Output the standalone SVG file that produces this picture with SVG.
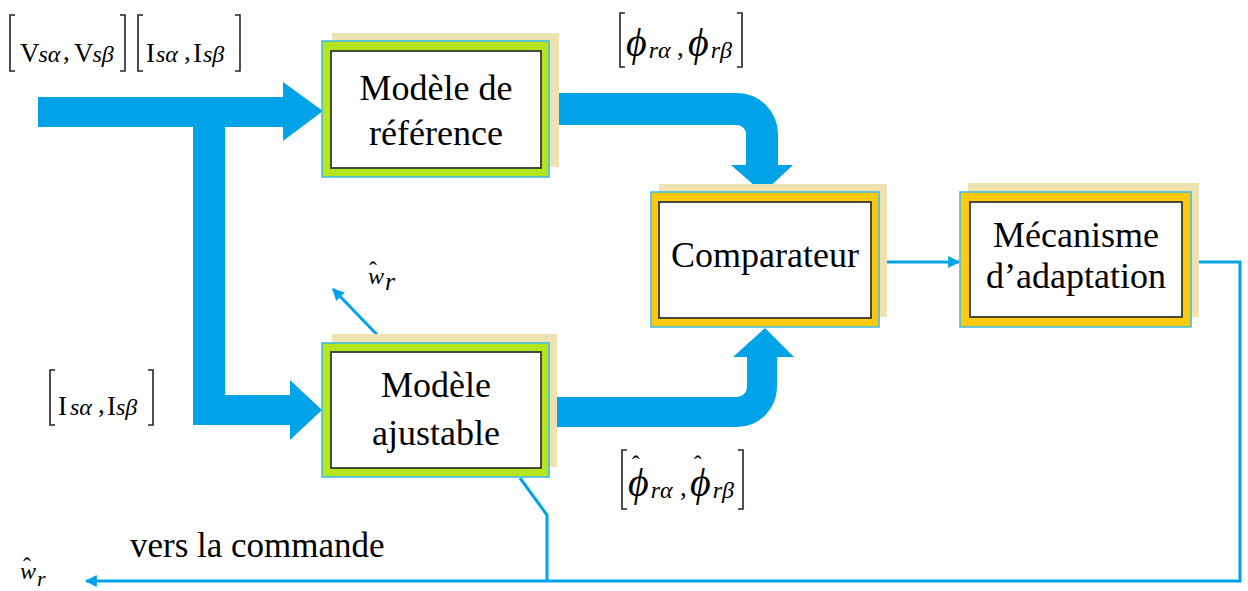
<svg xmlns="http://www.w3.org/2000/svg" width="1248" height="591" viewBox="0 0 1248 591" font-family="Liberation Serif, Times New Roman, serif">
  <style>
    .shadow { fill: #EEE2B0; }
    .green { fill: #B4E51E; stroke: #3DB8EC; stroke-width: 1.5; }
    .gold { fill: #FFC90E; stroke: #3DB8EC; stroke-width: 1.5; }
    .inner { fill: #FFFFFF; stroke: #3A3A30; stroke-width: 1.8; }
    .big { fill: #00A2E8; }
    .thin { fill: none; stroke: #00A2E8; stroke-width: 3; }
    text { font-family: 'Liberation Serif', 'Times New Roman', serif; fill: #000; }
    .lbl { font-size: 36px; text-anchor: middle; }
    .m { font-size: 27px; }
    .mi { font-size: 24px; font-style: italic; }
    .phi { font-size: 40px; font-style: italic; }
    .hat { font-size: 24px; font-style: normal; }
    .br { fill: none; stroke: #2A2030; stroke-width: 1.6; }
  </style>
  <defs>
    <marker id="ah" viewBox="0 0 10 10" refX="9" refY="5" markerWidth="4" markerHeight="4" orient="auto-start-reverse">
      <path d="M0,0 L10,5 L0,10 z" fill="#00A2E8"/>
    </marker>
  </defs>

  <rect width="1248" height="591" fill="#FFFFFF"/>

  <!-- connectors -->
  <g id="connectors">
    <!-- input bus split to both models -->
    <path class="big" d="M38,97 L283,97 L283,82 L323,111 L283,141 L283,127 L225,127 L225,395 L290,395 L290,380 L322,410 L290,440 L290,425 L193,425 L193,127 L38,127 Z"/>
    <!-- reference model to comparator -->
    <path class="big" d="M549,93 L737,93 A41,41 0 0 1 778,134 L778,165 L793,165 L763,193 L731,165 L746,165 L746,134 A9,9 0 0 0 737,125 L549,125 Z"/>
    <!-- adjustable model to comparator -->
    <path class="big" d="M549,397 L737,397 A10,10 0 0 0 747,387 L747,357 L733,357 L765,328 L794,357 L777,357 L777,387 A40,40 0 0 1 737,427 L549,427 Z"/>
    <!-- comparator to adaptation -->
    <line class="thin" x1="879" y1="262" x2="959" y2="262" marker-end="url(#ah)"/>
    <!-- adaptation output feedback -->
    <polyline class="thin" points="1191,262 1240,262 1240,581 86,581" marker-end="url(#ah)"/>
    <!-- adjustable model to feedback line -->
    <polyline class="thin" points="520,478 547,515 547,581"/>
    <!-- speed estimate output -->
    <line class="thin" x1="385" y1="343" x2="333" y2="289" marker-end="url(#ah)"/>
  </g>

  <!-- Modèle de référence -->
  <g id="modele-reference">
    <rect class="shadow" x="332" y="33" width="227" height="134"/>
    <rect class="green" x="322" y="41" width="227" height="136"/>
    <rect class="inner" x="331" y="51" width="210" height="117"/>
    <text class="lbl" x="436" y="100">Modèle de</text>
    <text class="lbl" x="436" y="145">référence</text>
  </g>

  <!-- Modèle ajustable -->
  <g id="modele-ajustable">
    <rect class="shadow" x="332" y="334" width="225" height="133"/>
    <rect class="green" x="322" y="343" width="227" height="134"/>
    <rect class="inner" x="331" y="352" width="210" height="116"/>
    <text class="lbl" x="436" y="397">Modèle</text>
    <text class="lbl" x="436" y="445">ajustable</text>
  </g>

  <!-- Comparateur -->
  <g id="comparateur">
    <rect class="shadow" x="659" y="184" width="228" height="133"/>
    <rect class="gold" x="651" y="192" width="228" height="135"/>
    <rect class="inner" x="659" y="202" width="212" height="116"/>
    <text class="lbl" x="765" y="267">Comparateur</text>
  </g>

  <!-- Mécanisme d'adaptation -->
  <g id="mecanisme">
    <rect class="shadow" x="968" y="183" width="231" height="134"/>
    <rect class="gold" x="960" y="192" width="231" height="135"/>
    <rect class="inner" x="970" y="202" width="212" height="115"/>
    <text class="lbl" x="1076" y="247">Mécanisme</text>
    <text class="lbl" x="1076" y="288">d’adaptation</text>
  </g>

  <!-- input voltages and currents -->
  <g id="label-vs-is">
    <path class="br" d="M15,15 L10,15 L10,71 L15,71"/>
    <text class="m" x="20" y="62">V<tspan class="mi" dx="-1">sα</tspan></text>
    <text class="m" x="63" y="60">,</text>
    <text class="m" x="74" y="62">V<tspan class="mi" dx="-1">sβ</tspan></text>
    <path class="br" d="M120,15 L125,15 L125,71 L120,71"/>
    <path class="br" d="M143,15 L138,15 L138,71 L143,71"/>
    <text class="m" x="146" y="62">I<tspan class="mi" dx="1">sα</tspan></text>
    <text class="m" x="184" y="60">,</text>
    <text class="m" x="193" y="62">I<tspan class="mi" dx="1">sβ</tspan></text>
    <path class="br" d="M235,15 L240,15 L240,71 L235,71"/>
  </g>

  <!-- reference fluxes -->
  <g id="label-phi">
    <path class="br" d="M625,13 L620,13 L620,67 L625,67"/>
    <text class="phi" x="626" y="56">ϕ<tspan class="mi" dx="2" dy="2">rα</tspan></text>
    <text class="m" x="677" y="56">,</text>
    <text class="phi" x="688" y="56">ϕ<tspan class="mi" dx="2" dy="2">rβ</tspan></text>
    <path class="br" d="M737,13 L742,13 L742,67 L737,67"/>
  </g>

  <!-- estimated fluxes -->
  <g id="label-phi-hat">
    <path class="br" d="M627,450 L622,450 L622,509 L627,509"/>
    <text class="phi" x="628" y="496">ϕ<tspan class="hat" dx="-17" dy="-24">ˆ</tspan><tspan class="mi" dx="11" dy="26">rα</tspan></text>
    <text class="m" x="680" y="496">,</text>
    <text class="phi" x="690" y="496">ϕ<tspan class="hat" dx="-17" dy="-24">ˆ</tspan><tspan class="mi" dx="11" dy="26">rβ</tspan></text>
    <path class="br" d="M738,450 L743,450 L743,509 L738,509"/>
  </g>

  <!-- stator currents -->
  <g id="label-is">
    <path class="br" d="M55,370 L50,370 L50,425 L55,425"/>
    <text class="m" x="58" y="415">I<tspan class="mi" dx="3">sα</tspan></text>
    <text class="m" x="98" y="413">,</text>
    <text class="m" x="107" y="415">I<tspan class="mi" dx="0">sβ</tspan></text>
    <path class="br" d="M148,370 L153,370 L153,425 L148,425"/>
  </g>

  <!-- estimated speed at adjustable model -->
  <g id="label-wr">
    <text class="mi" x="368" y="284" font-size="32">w<tspan class="hat" dx="-15" dy="-6">ˆ</tspan><tspan font-size="26" dx="8" dy="12">r</tspan></text>
  </g>

  <!-- estimated speed sent to the drive -->
  <g id="label-commande">
    <text x="130" y="557" font-size="35">vers la commande</text>
    <text class="mi" x="20" y="579" font-size="28">w<tspan class="hat" font-size="22" dx="-13" dy="-5">ˆ</tspan><tspan font-size="22" dx="6" dy="12">r</tspan></text>
  </g>
</svg>
